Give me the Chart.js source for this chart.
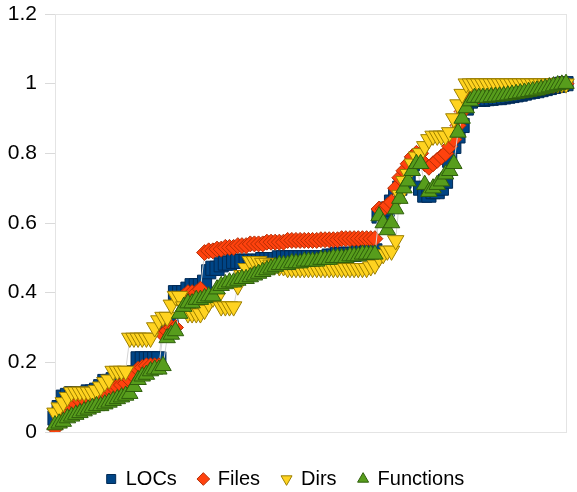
<!DOCTYPE html>
<html>
<head>
<meta charset="utf-8">
<script src="https://cdn.jsdelivr.net/npm/chart.js@4.4.1/dist/chart.umd.min.js"></script>
<style>
  html, body { margin: 0; padding: 0; background: #fff; }
  #wrap { width: 577px; height: 492px; }
</style>
</head>
<body>
<div id="wrap"><canvas id="chart" width="577" height="492"></canvas></div>
<script>
// normalised growth per release (0..1)
const locs = [
  0.04, 0.07, 0.10, 0.105, 0.11, 0.11, 0.11, 0.11, 0.115, 0.115,
  0.12, 0.13, 0.145, 0.145, 0.15, 0.15, 0.15, 0.155, 0.16, 0.17,
  0.21, 0.21, 0.21, 0.21, 0.21, 0.21, 0.31, 0.31, 0.31, 0.40,
  0.40, 0.40, 0.41, 0.42, 0.42, 0.42, 0.43, 0.46, 0.47, 0.47,
  0.48, 0.485, 0.485, 0.49, 0.49, 0.49, 0.49, 0.49, 0.49, 0.49,
  0.495, 0.495, 0.495, 0.495, 0.50, 0.50, 0.50, 0.50, 0.50, 0.50,
  0.50, 0.50, 0.50, 0.50, 0.50, 0.50, 0.505, 0.505, 0.51, 0.51,
  0.51, 0.51, 0.51, 0.515, 0.515, 0.515, 0.52, 0.52, 0.62, 0.63,
  0.64, 0.66, 0.68, 0.70, 0.72, 0.74, 0.77, 0.78, 0.70, 0.68,
  0.68, 0.69, 0.69, 0.70, 0.72, 0.78, 0.82, 0.85, 0.88, 0.93,
  0.95, 0.955, 0.955, 0.955, 0.957, 0.958, 0.96, 0.96, 0.962, 0.964,
  0.966, 0.968, 0.97, 0.973, 0.976, 0.978, 0.98, 0.983, 0.986, 0.989,
  0.992, 0.995, 0.998, 1.0
];
const files = [
  0.01, 0.03, 0.05, 0.06, 0.07, 0.08, 0.09, 0.095, 0.10, 0.10,
  0.105, 0.11, 0.12, 0.125, 0.13, 0.13, 0.135, 0.14, 0.15, 0.16,
  0.18, 0.185, 0.19, 0.19, 0.19, 0.19, 0.28, 0.29, 0.30, 0.30,
  0.38, 0.39, 0.40, 0.40, 0.40, 0.41, 0.515, 0.52, 0.52, 0.525,
  0.525, 0.53, 0.53, 0.53, 0.535, 0.535, 0.535, 0.54, 0.54, 0.54,
  0.54, 0.545, 0.545, 0.545, 0.545, 0.545, 0.55, 0.55, 0.55, 0.55,
  0.55, 0.55, 0.55, 0.55, 0.552, 0.552, 0.552, 0.552, 0.552, 0.555,
  0.555, 0.555, 0.555, 0.555, 0.555, 0.555, 0.555, 0.555, 0.64, 0.64,
  0.65, 0.66, 0.70, 0.73, 0.75, 0.77, 0.79, 0.80, 0.80, 0.77,
  0.76, 0.77, 0.78, 0.79, 0.80, 0.82, 0.84, 0.88, 0.92, 0.95,
  0.96, 0.965, 0.965, 0.967, 0.968, 0.97, 0.97, 0.972, 0.973, 0.975,
  0.976, 0.978, 0.98, 0.982, 0.984, 0.986, 0.988, 0.99, 0.992, 0.994,
  0.996, 0.998, 1.0, 1.0
];
const dirs = [
  0.055, 0.07, 0.085, 0.10, 0.115, 0.115, 0.115, 0.115, 0.115, 0.115,
  0.12, 0.13, 0.143, 0.15, 0.175, 0.175, 0.175, 0.175, 0.27, 0.27,
  0.27, 0.27, 0.27, 0.27, 0.30, 0.32, 0.33, 0.33, 0.365, 0.39,
  0.39, 0.36, 0.34, 0.34, 0.34, 0.34, 0.35, 0.37, 0.385, 0.385,
  0.36, 0.36, 0.36, 0.36, 0.42, 0.45, 0.47, 0.49, 0.49, 0.49,
  0.485, 0.485, 0.48, 0.48, 0.475, 0.475, 0.47, 0.47, 0.47, 0.47,
  0.47, 0.47, 0.47, 0.47, 0.47, 0.47, 0.47, 0.47, 0.47, 0.47,
  0.47, 0.47, 0.47, 0.47, 0.47, 0.47, 0.475, 0.48, 0.50, 0.51,
  0.52, 0.52, 0.55, 0.68, 0.72, 0.74, 0.77, 0.79, 0.80, 0.82,
  0.84, 0.85, 0.85, 0.85, 0.85, 0.86, 0.90, 0.94, 0.97, 1.0,
  1.0, 1.0, 1.0, 1.0, 1.0, 1.0, 1.0, 1.0, 1.0, 1.0,
  1.0, 1.0, 1.0, 1.0, 1.0, 1.0, 1.0, 1.0, 1.0, 1.0,
  1.0, 1.0, 1.0, 1.0
];
const functions = [
  0.02, 0.025, 0.03, 0.04, 0.045, 0.05, 0.055, 0.06, 0.065, 0.07,
  0.075, 0.075, 0.08, 0.085, 0.09, 0.095, 0.10, 0.105, 0.11, 0.13,
  0.15, 0.16, 0.165, 0.175, 0.18, 0.18, 0.19, 0.27, 0.28, 0.29,
  0.34, 0.36, 0.37, 0.37, 0.38, 0.38, 0.385, 0.39, 0.39, 0.41,
  0.42, 0.425, 0.43, 0.43, 0.435, 0.44, 0.44, 0.445, 0.45, 0.455,
  0.46, 0.465, 0.47, 0.475, 0.48, 0.48, 0.48, 0.485, 0.485, 0.485,
  0.49, 0.49, 0.49, 0.49, 0.495, 0.495, 0.495, 0.50, 0.50, 0.50,
  0.50, 0.505, 0.505, 0.505, 0.51, 0.51, 0.51, 0.51, 0.62, 0.60,
  0.58, 0.60, 0.64, 0.67, 0.70, 0.72, 0.75, 0.77, 0.77, 0.71,
  0.69, 0.70, 0.71, 0.72, 0.74, 0.75, 0.77, 0.86, 0.90, 0.93,
  0.95, 0.96, 0.96, 0.96, 0.96, 0.962, 0.963, 0.964, 0.965, 0.967,
  0.969, 0.971, 0.973, 0.975, 0.977, 0.979, 0.981, 0.984, 0.987, 0.99,
  0.993, 0.996, 0.998, 1.0
];
const releases = locs.map((_, i) => String(i + 1));
const yTicks = [0, 0.2, 0.4, 0.6, 0.8, 1, 1.2];

Chart.defaults.font.family = '"Liberation Sans", Arial, sans-serif';
Chart.defaults.color = '#000';

// light grey frame round the plot area
const frame = {
  id: 'frame',
  beforeDatasetsDraw(chart) {
    const { ctx, chartArea: a } = chart;
    ctx.save();
    ctx.strokeStyle = '#e4e4e4';
    ctx.lineWidth = 1;
    ctx.strokeRect(Math.round(a.left) + 0.5, Math.round(a.top) + 0.5,
      Math.round(a.right - a.left), Math.round(a.bottom - a.top));
    ctx.restore();
  }
};

function series(label, data, fill, edge, style, radius, order, rotation) {
  return {
    label: label,
    data: data,
    order: order,
    borderColor: '#d4d4d4',
    borderWidth: 1,
    pointStyle: style,
    pointRotation: rotation || 0,
    pointRadius: radius,
    pointBackgroundColor: fill,
    pointBorderColor: edge,
    pointBorderWidth: 1,
    tension: 0
  };
}

new Chart(document.getElementById('chart'), {
  type: 'line',
  data: {
    labels: releases,
    datasets: [
      series('LOCs', locs, '#004586', '#002a55', 'rect', 10, 4),
      series('Files', files, '#ff420e', '#b52e05', 'rectRot', 8, 3),
      series('Dirs', dirs, '#ffd320', '#9c7f00', 'triangle', 9.5, 2, 180),
      series('Functions', functions, '#579d1c', '#2f5f0c', 'triangle', 9.5, 1)
    ]
  },
  options: {
    responsive: false,
    animation: false,
    layout: { padding: { top: 14, right: 6, bottom: -7, left: 0 } },
    plugins: {
      legend: {
        position: 'bottom',
        labels: {
          usePointStyle: true,
          boxWidth: 9,
          boxHeight: 9,
          padding: 22,
          color: '#000',
          font: { size: 20 },
          sort: (a, b) => a.datasetIndex - b.datasetIndex
        }
      },
      tooltip: { enabled: false }
    },
    scales: {
      x: {
        offset: false,
        grid: { display: false },
        border: { display: false },
        ticks: { display: false },
        afterFit: s => { s.height = 15; }
      },
      y: {
        min: 0,
        max: 1.2,
        afterBuildTicks: s => { s.ticks = yTicks.map(v => ({ value: v })); },
        grid: { drawOnChartArea: false, color: '#dadada', tickLength: 10 },
        border: { display: false },
        ticks: {
          padding: 8,
          color: '#000',
          font: { size: 21 },
          callback: v => String(Math.round(v * 10) / 10)
        },
        afterFit: s => { s.width = 55; s.paddingTop = 0; s.paddingBottom = 0; }
      }
    }
  },
  plugins: [frame]
});
</script>
</body>
</html>
